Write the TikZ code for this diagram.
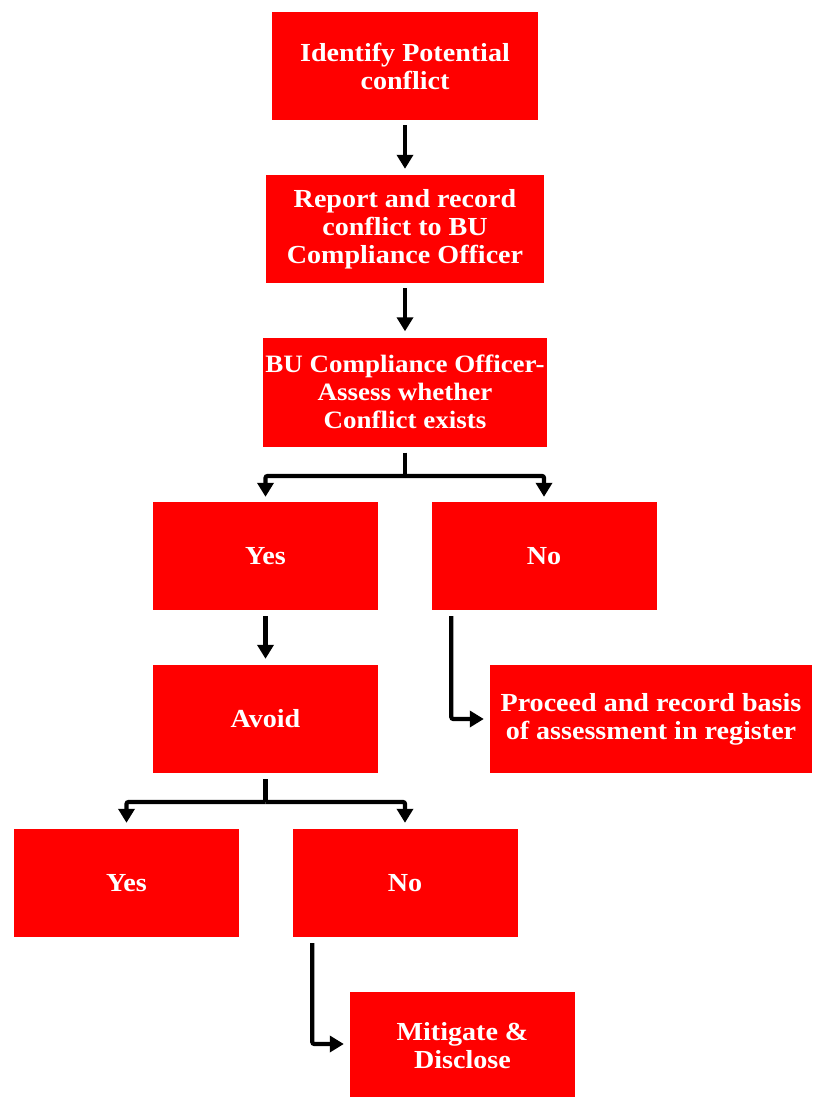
\documentclass[tikz,border=0pt]{standalone}
\usepackage{fontspec}
\setmainfont{Liberation Serif}[FakeStretch=1.08]
\usetikzlibrary{arrows.meta}

\begin{document}
\begin{tikzpicture}[>={Triangle[length=14pt, width=16pt]}, x=1pt, y=-1pt]

\definecolor{boxred}{RGB}{255, 0, 0}

% Fill background
\fill[white] (0,0) rectangle (812,1097);
\useasboundingbox (0,0) rectangle (812,1097);

\tikzset{
    step box/.style={
        fill=boxred, rectangle,
        minimum width=#1, minimum height=108pt,
        inner sep=0pt, text=white, align=center,
        font=\bfseries\fontsize{26}{28}\selectfont
    },
    step box/.default=225pt,
    flow/.style={
        draw=black, line width=4.2pt, rounded corners=2pt
    }
}

% --- MAIN CHAIN ---
\node[step box=266pt] (identify) at (405, 66) {Identify Potential\\conflict};
\node[step box=278pt] (report) at (405, 229) {Report and record\\conflict to BU\\Compliance Officer};
\node[step box=284pt, minimum height=109pt, font=\bfseries\fontsize{25}{28}\selectfont] (assess) at (405, 392) {BU Compliance Officer-\\Assess whether\\Conflict exists};

% --- FIRST DECISION ---
\node[step box] (exists) at (265.5, 556) {Yes};
\node[step box] (noexists) at (544, 556) {No};
\node[step box] (avoid) at (265.5, 719) {Avoid};
\node[step box=322pt] (proceed) at (651, 719) {Proceed and record basis\\of assessment in register};

% --- SECOND DECISION ---
\node[step box] (avoidyes) at (126.5, 883) {Yes};
\node[step box] (avoidno) at (405, 883) {No};
\node[step box] (mitigate) at (462.5, 1046) {Mitigate \&\\Disclose};

% Split points
\coordinate (split1) at (405, 476);
\coordinate (split2) at (265.5, 802);

% --- CONNECTORS ---
\draw[flow, ->, shorten <=5pt, shorten >=6pt] (identify) -- (report);
\draw[flow, ->, shorten <=5pt, shorten >=6pt] (report) -- (assess);

\draw[flow, shorten <=6pt] (assess) -- (split1);
\draw[flow, ->, shorten >=5pt] (split1) -| (exists);
\draw[flow, ->, shorten >=5pt] (split1) -| (noexists);

\draw[flow, ->, shorten <=6pt, shorten >=6pt] (exists) -- (avoid);
\draw[flow, ->, shorten >=6pt] ([xshift=20pt, yshift=-6pt]noexists.south west) |- (proceed.west);

\draw[flow, shorten <=6pt] (avoid) -- (split2);
\draw[flow, ->, shorten >=6pt] (split2) -| (avoidyes);
\draw[flow, ->, shorten >=6pt] (split2) -| (avoidno);

\draw[flow, ->, shorten >=6pt] ([xshift=20pt, yshift=-6pt]avoidno.south west) |- ([yshift=2pt]mitigate.west);

\end{tikzpicture}
\end{document}
